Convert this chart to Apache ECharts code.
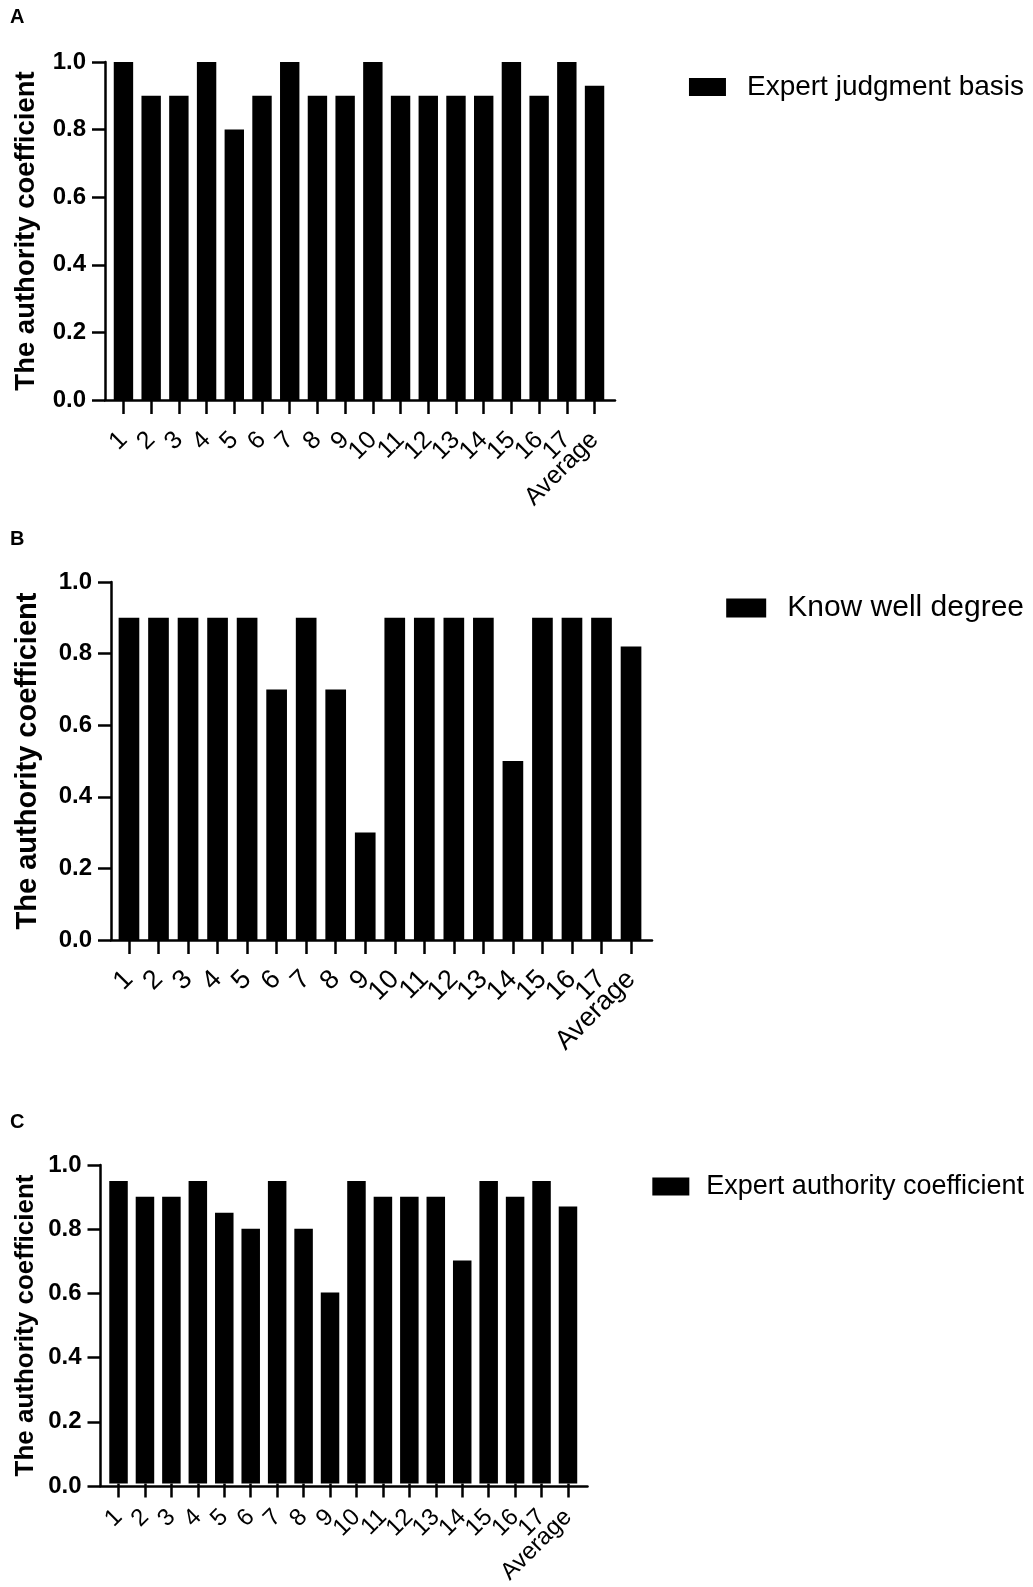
<!DOCTYPE html>
<html>
<head>
<meta charset="utf-8">
<script src="https://cdn.jsdelivr.net/npm/echarts@6/dist/echarts.min.js"></script>
<style>
  html, body { margin: 0; padding: 0; background: #fff; }
  #chart { width: 1033px; height: 1587px; }
</style>
</head>
<body>
<div id="chart"></div>
<script>
// ---- data ----
const categories = ['1','2','3','4','5','6','7','8','9','10','11','12','13','14','15','16','17','Average'];
const yTicks = [0.0, 0.2, 0.4, 0.6, 0.8, 1.0];
const panelLabels = ['A', 'B', 'C'];
const seriesNames = ['Expert judgment basis', 'Know well degree', 'Expert authority coefficient'];
const yAxisTitle = 'The authority coefficient';
const judgmentBasis = [1.0, 0.9, 0.9, 1.0, 0.8, 0.9, 1.0, 0.9, 0.9, 1.0, 0.9, 0.9, 0.9, 0.9, 1.0, 0.9, 1.0, 0.93];
const knowWell = [0.9, 0.9, 0.9, 0.9, 0.9, 0.7, 0.9, 0.7, 0.3, 0.9, 0.9, 0.9, 0.9, 0.5, 0.9, 0.9, 0.9, 0.82];
const authorityCoef = [0.95, 0.9, 0.9, 0.95, 0.85, 0.8, 0.95, 0.8, 0.6, 0.95, 0.9, 0.9, 0.9, 0.7, 0.95, 0.9, 0.95, 0.87];
const seriesValues = [judgmentBasis, knowWell, authorityCoef];

// ---- layout (pixels) ----
const W = 1033, H = 1587;
const panels = [
  { axisX: 105,   axisEnd: 615,   bandL: 109.6, bandR: 608.4, yTop: 62,   yBot: 400,  nameGap: 65,   nameSize: 27.5, labelTop: 7,    legendTop: 73,   legendSize: 28, legW: 37, legH: 18, legPad: 16, xlSize: 25, xlMargin: 36 },
  { axisX: 111,   axisEnd: 652,   bandL: 114.2, bandR: 645.8, yTop: 582,  yBot: 940,  nameGap: 69,   nameSize: 29,   labelTop: 529,  legendTop: 593,  legendSize: 30, legW: 40, legH: 19, legPad: 16, xlSize: 27, xlMargin: 35 },
  { axisX: 100.5, axisEnd: 587.5, bandL: 105.3, bandR: 581.2, yTop: 1165, yBot: 1486, nameGap: 61.5, nameSize: 26,   labelTop: 1112, legendTop: 1173, legendSize: 27, legW: 37, legH: 18, legPad: 12, xlSize: 24, xlMargin: 30 }
];

const grid = [], xAxis = [], yAxis = [], series = [], legend = [], title = [];
panels.forEach((p, i) => {
  grid.push({ left: p.axisX, right: W - p.axisEnd, top: p.yTop, bottom: H - p.yBot, containLabel: false });
  grid.push({ left: p.bandL, right: W - p.bandR, top: p.yTop, bottom: H - p.yBot, containLabel: false });
  const gFrame = 2 * i, gBar = 2 * i + 1;

  xAxis.push({
    gridIndex: gFrame, type: 'value', min: 0, max: 1,
    axisLine: { show: true, onZero: false, lineStyle: { color: '#000', width: 2.5 } },
    axisTick: { show: false }, axisLabel: { show: false }, splitLine: { show: false }
  });
  xAxis.push({
    gridIndex: gBar, type: 'category', data: categories,
    axisLine: { show: false },
    axisTick: { show: true, alignWithLabel: true, length: 14, lineStyle: { color: '#000', width: 2.5 } },
    axisLabel: { interval: 0, rotate: 45, margin: p.xlMargin, color: '#000', fontSize: p.xlSize, fontFamily: 'Liberation Sans, Arial, sans-serif' },
    splitLine: { show: false }
  });
  yAxis.push({
    gridIndex: gFrame, type: 'value', min: 0, max: 1, interval: 0.2,
    name: yAxisTitle, nameLocation: 'middle', nameGap: p.nameGap,
    nameTextStyle: { color: '#000', fontSize: p.nameSize, fontWeight: 'bold', fontFamily: 'Liberation Sans, Arial, sans-serif' },
    axisLine: { show: true, lineStyle: { color: '#000', width: 2.5 } },
    axisTick: { show: true, length: 13, lineStyle: { color: '#000', width: 2.5 } },
    axisLabel: { margin: 19, color: '#000', fontSize: 24, fontWeight: 'bold', fontFamily: 'Liberation Sans, Arial, sans-serif',
      formatter: v => Number(v).toFixed(1) },
    splitLine: { show: false }
  });
  yAxis.push({ gridIndex: gBar, type: 'value', min: 0, max: 1, show: false });

  series.push({
    name: seriesNames[i], type: 'bar', xAxisIndex: gBar, yAxisIndex: gBar,
    data: seriesValues[i], barWidth: '70%',
    itemStyle: { color: '#000' }, silent: true, animation: false
  });

  legend.push({
    data: [seriesNames[i]], right: 9, top: p.legendTop, padding: 0, orient: 'horizontal',
    icon: 'rect', itemWidth: p.legW, itemHeight: p.legH, selectedMode: false,
    textStyle: { color: '#000', fontSize: p.legendSize, fontFamily: 'Liberation Sans, Arial, sans-serif', padding: [0, 0, 0, p.legPad] }
  });

  title.push({
    text: panelLabels[i], left: 10, top: p.labelTop, padding: 0,
    textStyle: { color: '#000', fontSize: 20, fontWeight: 'bold', fontFamily: 'Liberation Sans, Arial, sans-serif' }
  });
});

const chart = echarts.init(document.getElementById('chart'), null, { renderer: 'canvas' });
chart.setOption({
  backgroundColor: '#fff',
  animation: false,
  title, grid, xAxis, yAxis, series, legend
});
</script>
</body>
</html>
